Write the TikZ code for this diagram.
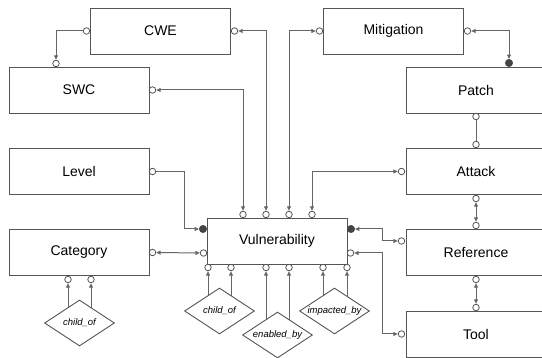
\documentclass[tikz,border=0pt]{standalone}
\usepackage{fontspec}
\setmainfont{Liberation Sans}
\usetikzlibrary{arrows.meta,shapes.geometric,backgrounds}
\definecolor{edgec}{HTML}{555555}
\definecolor{linec}{HTML}{666666}
\definecolor{dotc}{HTML}{444444}
\begin{document}
\begin{tikzpicture}[x=1pt,y=-1pt,
 >={Triangle[length=4.5pt,width=4pt]},
 ent/.style={draw=edgec,line width=0.9pt,fill=white,minimum width=140pt,minimum height=46pt,inner sep=0pt,font=\fontsize{14}{16}\selectfont},
 rel/.style={diamond,draw=edgec,line width=0.9pt,fill=white,minimum width=70pt,minimum height=46pt,inner sep=0pt,aspect=1.5,font=\fontsize{9.5}{11}\selectfont\itshape},
 oc/.style={circle,draw=edgec,line width=0.8pt,fill=white,minimum size=6.5pt,inner sep=0pt},
 fc/.style={circle,draw=dotc,fill=dotc,minimum size=7.5pt,inner sep=0pt},
 con/.style={draw=linec,line width=1pt}
]
\clip (0,0) rectangle (542,358);
% entities
\node[ent] (CWE) at (160.5,31) {CWE};
\node[ent] (MIT) at (393.5,31) {Mitigation};
\node[ent] (SWC) at (79,90) {SWC};
\node[ent] (PAT) at (476,90) {Patch};
\node[ent] (LEV) at (79,171.5) {Level};
\node[ent] (ATT) at (476,171.5) {Attack};
\node[ent] (CAT) at (79,252.5) {Category};
\node[ent] (VUL) at (277,241) {Vulnerability};
\node[ent] (REF) at (476,252.5) {Reference};
\node[ent] (TOO) at (476,334.5) {Tool};
% relations
\node[rel] (d1) at (79.5,323) {child\_of};
\node[rel] (d2) at (219.5,311) {child\_of};
\node[rel] (d3) at (277.5,335) {enabled\_by};
\node[rel] (d4) at (334.5,311) {impacted\_by};
% circles
\node[oc] (cweL) at (86.5,31) {};
\node[oc] (cweR) at (234.5,31) {};
\node[oc] (swcT) at (56,63.5) {};
\node[oc] (swcR) at (152.5,90) {};
\node[oc] (mitL) at (319.5,31) {};
\node[oc] (mitR) at (467.5,31) {};
\node[fc] (patT) at (509,63) {};
\node[oc] (patB) at (476,116.5) {};
\node[oc] (levR) at (152.5,171.5) {};
\node[oc] (attL) at (401.5,171.5) {};
\node[oc] (attT) at (476,144.5) {};
\node[oc] (attB) at (476,198.5) {};
\node[oc] (catR) at (152.5,252.5) {};
\node[oc] (catB1) at (68,279.5) {};
\node[oc] (catB2) at (91,279.5) {};
\node[oc] (vT1) at (243,214.5) {};
\node[oc] (vT2) at (266,214.5) {};
\node[oc] (vT3) at (289,214.5) {};
\node[oc] (vT4) at (312,214.5) {};
\node[fc] (vL1) at (203,229) {};
\node[oc] (vL2) at (203.5,253) {};
\node[fc] (vR1) at (351,229) {};
\node[oc] (vR2) at (350.5,253) {};
\node[oc] (vB1) at (208,267.5) {};
\node[oc] (vB2) at (231,267.5) {};
\node[oc] (vB3) at (266,267.5) {};
\node[oc] (vB4) at (289,267.5) {};
\node[oc] (vB5) at (323,267.5) {};
\node[oc] (vB6) at (347,267.5) {};
\node[oc] (refT) at (476,225.5) {};
\node[oc] (refL) at (401.5,241) {};
\node[oc] (refB) at (476,279.5) {};
\node[oc] (tooT) at (476,307.5) {};
\node[oc] (tooL) at (401.5,334) {};
\coordinate (bendR) at (382,0);
\coordinate (bendL) at (184,0);
\begin{pgfonlayer}{background}
\draw[con,->] (cweL) -| (swcT);
\draw[con,<->] (cweR) -| (vT2);
\draw[con,<->] (swcR) -| (vT1);
\draw[con,<->] (mitL) -| (vT3);
\draw[con,<->] (attL) -| (vT4);
\draw[con,<->] (mitR) -| (patT);
\draw[con] (patB) -- (attT);
\draw[con,<->] (attB) -- (refT);
\draw[con,<->] (refB) -- (tooT);
\draw[con,<->] (vR1) -- (vR1 -| bendR) |- (refL);
\draw[con,<->] (vR2) -- (vR2 -| bendR) |- (tooL);
\draw[con,->] (levR) -- (levR -| bendL) |- (vL1);
\draw[con,<->] (catR) -- (vL2);
\draw[con,<-] (catB1) -- (catB1 |- d1.center);
\draw[con,<-] (catB2) -- (catB2 |- d1.center);
\draw[con,<-] (vB1) -- (vB1 |- d2.center);
\draw[con,<-] (vB2) -- (vB2 |- d2.center);
\draw[con,<-] (vB3) -- (vB3 |- d3.center);
\draw[con,<-] (vB4) -- (vB4 |- d3.center);
\draw[con,<-] (vB5) -- (vB5 |- d4.center);
\draw[con,<-] (vB6) -- (vB6 |- d4.center);
\end{pgfonlayer}
\end{tikzpicture}
\end{document}
